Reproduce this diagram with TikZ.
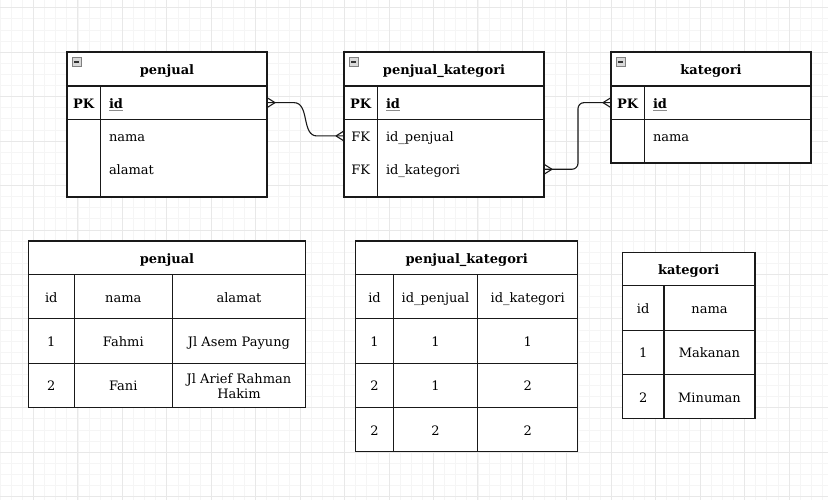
\documentclass[tikz,border=0pt]{standalone}
\usepackage{fontspec}
\setmainfont{DejaVu Serif}
\begin{document}
\begin{tikzpicture}[x=1pt,y=-1pt,
  every node/.style={inner sep=0pt, outer sep=0pt, text height=12pt, text depth=1pt, font=\fontsize{13}{15}\selectfont},
  ln/.style={draw=black!90, line width=1.1pt},
  box/.style={ln, fill=white, anchor=north west},
  row/.style={anchor=north west, minimum width=200pt, minimum height=33.3pt},
  hd/.style={font=\fontsize{13}{15}\selectfont\bfseries},
  cellw/.style={box, minimum width=#1, minimum height=44.4pt},
  minor/.style={draw=black!4, line width=0.5pt},
  major/.style={draw=black!9, line width=0.6pt},
  rel/.style={draw=black!90, line width=1.1pt},
  idul/.style={draw=black!45, line width=0.9pt},
  iconbox/.style={draw=black!50, fill=black!15, line width=0.7pt},
  iconbar/.style={draw=black!80, line width=1.6pt},
]
\useasboundingbox (0,0) rectangle (828,500);
\fill[white] (0,0) rectangle (828,500);
% grid
\foreach \i in {0,...,74} \draw[minor] (\i*11.111,0) -- (\i*11.111,500);
\foreach \i in {0,...,44} \draw[minor] (0,7.6+\i*11.111) -- (828,7.6+\i*11.111);
\foreach \i in {0,...,17} \draw[major] (33.33+\i*44.444,0) -- (33.33+\i*44.444,500);
\foreach \i in {0,...,11} \draw[major] (0,7.6+\i*44.444) -- (828,7.6+\i*44.444);

% ===== ER: penjual =====
\node[box, minimum width=200pt, minimum height=145pt] (pj) at (67,52) {};
\node[box, hd, minimum width=200pt, minimum height=34pt] (pjh) at (67,52) {penjual};
\node[box, minimum width=200pt, minimum height=33.3pt] (pjid) at (67,86) {};
\node[row] (pjnama) at (67,119.3) {};
\node[row] (pjalamat) at (67,152.6) {};
\draw[ln] ([xshift=33.3pt]pjid.north west) -- ([xshift=33.3pt]pj.south west);
\node[hd] (pjpk) at ([xshift=16.7pt]pjid.west) {PK};
\node[hd, anchor=west] (pjidt) at ([xshift=42pt]pjid.west) {id};
\draw[idul] ([yshift=-2.4pt]pjidt.base west) -- ([yshift=-2.4pt]pjidt.base east);
\node[anchor=west] (pjnamat) at ([xshift=42pt]pjnama.west) {nama};
\node[anchor=west] (pjalamatt) at ([xshift=42pt]pjalamat.west) {alamat};
\draw[iconbox] ([shift={(5.5pt,-5.5pt)}]pjh.north west) rectangle ++(8.5,8.5);
\draw[iconbar] ([shift={(7.3pt,-9.75pt)}]pjh.north west) -- ++(5,0);

% ===== ER: penjual_kategori =====
\node[box, minimum width=200pt, minimum height=145pt] (pk) at (344,52) {};
\node[box, hd, minimum width=200pt, minimum height=34pt] (pkh) at (344,52) {penjual\_kategori};
\node[box, minimum width=200pt, minimum height=33.3pt] (pkid) at (344,86) {};
\node[row] (pkfk1) at (344,119.3) {};
\node[row] (pkfk2) at (344,152.6) {};
\draw[ln] ([xshift=33.3pt]pkid.north west) -- ([xshift=33.3pt]pk.south west);
\node[hd] (pkpk) at ([xshift=16.7pt]pkid.west) {PK};
\node[hd, anchor=west] (pkidt) at ([xshift=42pt]pkid.west) {id};
\draw[idul] ([yshift=-2.4pt]pkidt.base west) -- ([yshift=-2.4pt]pkidt.base east);
\node (pkfk1l) at ([xshift=16.7pt]pkfk1.west) {FK};
\node[anchor=west] (pkfk1t) at ([xshift=42pt]pkfk1.west) {id\_penjual};
\node (pkfk2l) at ([xshift=16.7pt]pkfk2.west) {FK};
\node[anchor=west] (pkfk2t) at ([xshift=42pt]pkfk2.west) {id\_kategori};
\draw[iconbox] ([shift={(5.5pt,-5.5pt)}]pkh.north west) rectangle ++(8.5,8.5);
\draw[iconbar] ([shift={(7.3pt,-9.75pt)}]pkh.north west) -- ++(5,0);

% ===== ER: kategori =====
\node[box, minimum width=200pt, minimum height=111pt] (kat) at (611,52) {};
\node[box, hd, minimum width=200pt, minimum height=34pt] (kath) at (611,52) {kategori};
\node[box, minimum width=200pt, minimum height=33.3pt] (katid) at (611,86) {};
\node[row] (katnama) at (611,119.3) {};
\draw[ln] ([xshift=33.3pt]katid.north west) -- ([xshift=33.3pt]kat.south west);
\node[hd] (katpk) at ([xshift=16.7pt]katid.west) {PK};
\node[hd, anchor=west] (katidt) at ([xshift=42pt]katid.west) {id};
\draw[idul] ([yshift=-2.4pt]katidt.base west) -- ([yshift=-2.4pt]katidt.base east);
\node[anchor=west] (katnamat) at ([xshift=42pt]katnama.west) {nama};
\draw[iconbox] ([shift={(5.5pt,-5.5pt)}]kath.north west) rectangle ++(8.5,8.5);
\draw[iconbar] ([shift={(7.3pt,-9.75pt)}]kath.north west) -- ++(5,0);

% ===== relations =====
\draw[rel] (pjid.east) -- ++(27,0) to[out=0,in=180] ([xshift=-27pt]pkfk1.west) -- (pkfk1.west);
\draw[rel] (pjid.east) ++(8,0) -- ++(-8,5) ++(8,-5) -- ++(-8,-5);
\draw[rel] (pkfk1.west) ++(-8,0) -- ++(8,5) ++(-8,-5) -- ++(8,-5);
\draw[rel, rounded corners=6pt] (pkfk2.east) -- ++(34,0) |- (katid.west);
\draw[rel] (pkfk2.east) ++(8,0) -- ++(-8,5) ++(8,-5) -- ++(-8,-5);
\draw[rel] (katid.west) ++(-8,0) -- ++(8,5) ++(-8,-5) -- ++(8,-5);

% ===== data: penjual =====
\node[box, hd, minimum width=277.4pt, minimum height=33.3pt] (bpjh) at (28.3,241) {penjual};
\node[cellw=46pt] (bpj11) at (28.3,274.3) {id};
\node[cellw=98pt] (bpj12) at (74.3,274.3) {nama};
\node[cellw=133.4pt] (bpj13) at (172.3,274.3) {alamat};
\node[cellw=46pt] (bpj21) at (28.3,318.7) {1};
\node[cellw=98pt] (bpj22) at (74.3,318.7) {Fahmi};
\node[cellw=133.4pt] (bpj23) at (172.3,318.7) {Jl Asem Payung};
\node[cellw=46pt] (bpj31) at (28.3,363.1) {2};
\node[cellw=98pt] (bpj32) at (74.3,363.1) {Fani};
\node[cellw=133.4pt] (bpj33) at (172.3,363.1) {};
\node[anchor=base] (bpj33a) at ([yshift=2.2pt]bpj33.center) {Jl Arief Rahman};
\node[anchor=base] (bpj33b) at ([yshift=-12.8pt]bpj33.center) {Hakim};

% ===== data: penjual_kategori =====
\node[box, hd, minimum width=222pt, minimum height=33.3pt] (bpkh) at (355.7,241) {penjual\_kategori};
\node[cellw=37.6pt] (bpk11) at (355.7,274.3) {id};
\node[cellw=84.4pt] (bpk12) at (393.3,274.3) {id\_penjual};
\node[cellw=100pt] (bpk13) at (477.7,274.3) {id\_kategori};
\node[cellw=37.6pt] (bpk21) at (355.7,318.7) {1};
\node[cellw=84.4pt] (bpk22) at (393.3,318.7) {1};
\node[cellw=100pt] (bpk23) at (477.7,318.7) {1};
\node[cellw=37.6pt] (bpk31) at (355.7,363.1) {2};
\node[cellw=84.4pt] (bpk32) at (393.3,363.1) {1};
\node[cellw=100pt] (bpk33) at (477.7,363.1) {2};
\node[cellw=37.6pt] (bpk41) at (355.7,407.5) {2};
\node[cellw=84.4pt] (bpk42) at (393.3,407.5) {2};
\node[cellw=100pt] (bpk43) at (477.7,407.5) {2};

% ===== data: kategori =====
\node[box, hd, minimum width=132.7pt, minimum height=33.4pt] (bkh) at (622.3,252.3) {kategori};
\node[cellw=41.7pt] (bk11) at (622.3,285.7) {id};
\node[cellw=91pt] (bk12) at (664,285.7) {nama};
\node[cellw=41.7pt] (bk21) at (622.3,330.1) {1};
\node[cellw=91pt] (bk22) at (664,330.1) {Makanan};
\node[cellw=41.7pt] (bk31) at (622.3,374.5) {2};
\node[cellw=91pt] (bk32) at (664,374.5) {Minuman};
\end{tikzpicture}
\end{document}
